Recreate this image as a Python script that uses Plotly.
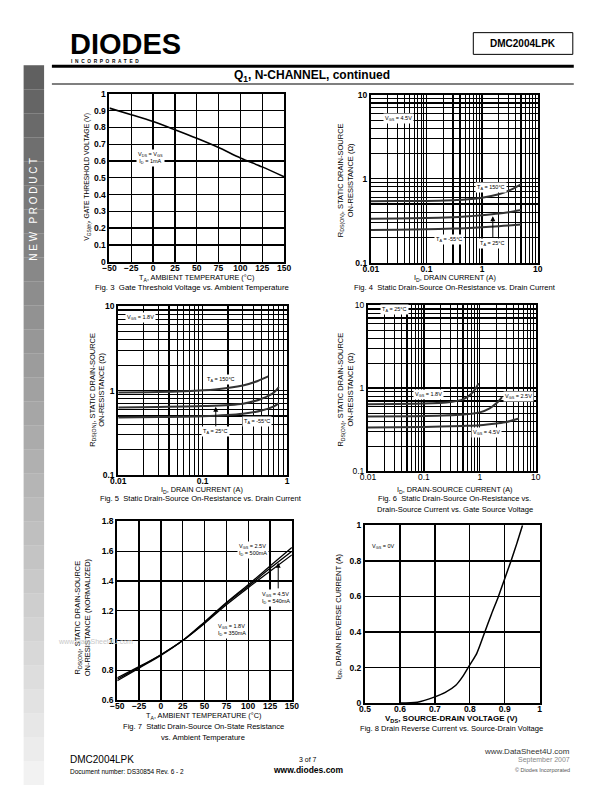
import plotly.graph_objects as go

W, H = 612, 792
FONT = "Liberation Sans, Arial, sans-serif"

# ---------------- data ----------------
fig3_temp = [-50, -25, 0, 25, 50, 75, 100, 125, 150]
fig3_vth = [0.915, 0.876, 0.835, 0.786, 0.735, 0.680, 0.618, 0.565, 0.506]

fig4_id = [0.01, 0.03, 0.1, 0.3, 0.5, 1, 2, 3, 5]
fig4_r150 = [0.54, 0.542, 0.545, 0.555, 0.565, 0.595, 0.655, 0.72, 0.86]
fig4_r25 = [0.335, 0.337, 0.34, 0.348, 0.355, 0.368, 0.385, 0.40, 0.425]
fig4_rm55 = [0.245, 0.247, 0.25, 0.255, 0.258, 0.264, 0.272, 0.278, 0.285]

fig5_id150 = [0.01, 0.03, 0.06, 0.14, 0.3, 0.45, 0.6]
fig5_r150 = [0.95, 0.96, 0.98, 1.03, 1.15, 1.3, 1.47]
fig5_id = [0.01, 0.03, 0.1, 0.3, 0.5, 0.7, 0.8]
fig5_r25 = [0.63, 0.64, 0.655, 0.70, 0.80, 0.95, 1.10]
fig5_rm55 = [0.48, 0.485, 0.495, 0.53, 0.58, 0.65, 0.71]

fig6_id18 = [0.01, 0.1, 0.3, 0.5, 0.7, 0.85, 0.95]
fig6_r18 = [0.64, 0.65, 0.68, 0.73, 0.85, 1.0, 1.15]
fig6_id25 = [0.01, 0.1, 0.5, 1, 1.5, 2, 2.5]
fig6_r25 = [0.455, 0.46, 0.48, 0.51, 0.57, 0.66, 0.78]
fig6_id45 = [0.01, 0.1, 0.5, 1, 2, 3, 5]
fig6_r45 = [0.335, 0.34, 0.35, 0.357, 0.375, 0.39, 0.43]

fig7_temp = [-50, -25, 0, 25, 50, 75, 100, 125, 150]
fig7_r25 = [0.73, 0.815, 0.90, 1.0, 1.125, 1.255, 1.375, 1.50, 1.625]
fig7_r45 = [0.74, 0.82, 0.905, 1.0, 1.12, 1.25, 1.365, 1.485, 1.60]
fig7_r18 = [0.75, 0.825, 0.905, 1.0, 1.115, 1.24, 1.355, 1.465, 1.575]

fig8_vsd = [0.6, 0.65, 0.7, 0.73, 0.76, 0.78, 0.8, 0.82, 0.843, 0.862, 0.882, 0.9, 0.918, 0.935, 0.951]
fig8_idr = [0.0, 0.005, 0.035, 0.06, 0.10, 0.15, 0.215, 0.28, 0.40, 0.50, 0.60, 0.70, 0.80, 0.90, 1.0]

log_ticks_x3 = [0.01, 0.1, 1, 10]
log_text_x3 = ["0.01", "0.1", "1", "10"]
log_ticks_x2 = [0.01, 0.1, 1]
log_text_x2 = ["0.01", "0.1", "1"]
log_ticks_y = [0.1, 1, 10]
log_text_y = ["0.1", "1", "10"]


def X(p):
    return p / W


def Y(p):
    return 1 - p / H


def minor_vals(e0, e1):
    return [m * 10 ** e for e in range(e0, e1) for m in range(2, 10)]


fig = go.Figure()


def axes(n, px0, px1, py0, py1, xcfg, ycfg, bold=True):
    xs = "" if n == 1 else str(n)
    tf = dict(family=FONT, size=8.5, color="black", weight="bold" if bold else "normal")
    common = dict(showline=True, mirror=True, linecolor="black", linewidth=2,
                  showgrid=True, gridcolor="black", gridwidth=1.3, zeroline=False,
                  ticks="", tickfont=tf, fixedrange=True)
    fig.layout["xaxis" + xs] = dict(domain=[X(px0), X(px1)], anchor="y" + xs,
                                    ticklabelstandoff=-3, **common, **xcfg)
    fig.layout["yaxis" + xs] = dict(domain=[Y(py1), Y(py0)], anchor="x" + xs, **common, **ycfg)


def line(n, x, y, w=1.6, color="black"):
    xs = "" if n == 1 else str(n)
    fig.add_trace(go.Scatter(x=x, y=y, xaxis="x" + xs, yaxis="y" + xs, mode="lines",
                             line=dict(color=color, width=w, shape="spline", smoothing=0.8),
                             showlegend=False, hoverinfo="skip"))


def logx(e0, e1, tv, tt):
    return dict(type="log", range=[e0, e1], tickvals=tv, ticktext=tt,
                minor=dict(tickvals=minor_vals(e0, e1), showgrid=True, gridcolor="black",
                           gridwidth=1.1, ticks=""))


# Fig 3
axes(1, 104, 283, 90, 260,
     dict(range=[-50, 150], tickvals=fig3_temp),
     dict(range=[0, 1], dtick=0.1, tick0=0))
line(1, fig3_temp, fig3_vth)

# Fig 4
axes(2, 372, 543, 91, 261, logx(-2, 1, log_ticks_x3, log_text_x3), logx(-1, 1, log_ticks_y, log_text_y))
line(2, fig4_id, fig4_r150, 2, "#333")
line(2, fig4_id, fig4_r25, 2, "#333")
line(2, fig4_id, fig4_rm55, 2, "#333")

# Fig 5
axes(3, 113, 286, 305, 476, logx(-2, 0, log_ticks_x2, log_text_x2), logx(-1, 1, log_ticks_y, log_text_y))
line(3, fig5_id150, fig5_r150, 2, "#333")
line(3, fig5_id, fig5_r25, 2, "#333")
line(3, fig5_id, fig5_rm55, 2, "#333")

# Fig 6
axes(4, 369, 541, 304, 472, logx(-2, 1, log_ticks_x3, log_text_x3), logx(-1, 1, log_ticks_y, log_text_y), bold=False)
line(4, fig6_id18, fig6_r18, 2, "#333")
line(4, fig6_id25, fig6_r25, 2, "#333")
line(4, fig6_id45, fig6_r45, 2, "#333")

# Fig 7
axes(5, 112, 291, 523, 704,
     dict(range=[-50, 150], tickvals=fig7_temp),
     dict(range=[0.6, 1.8], dtick=0.2, tick0=0.6))
line(5, fig7_temp, fig7_r25, 1.3)
line(5, fig7_temp, fig7_r45, 1.3)
line(5, fig7_temp, fig7_r18, 1.3)

# Fig 8
axes(6, 366, 545, 527, 707,
     dict(range=[0.5, 1], dtick=0.1, tick0=0.5),
     dict(range=[0, 1], dtick=0.2, tick0=0))
line(6, fig8_vsd, fig8_idr, 1.5)

ann = []


def T(x, y, text, size=7, angle=0, bold=False, color="black", xanchor="center", bg=None, align="center"):
    d = dict(x=X(x), y=Y(y), xref="paper", yref="paper", text=text, showarrow=False,
             textangle=angle, xanchor=xanchor, yanchor="middle", align=align,
             font=dict(family=FONT, size=size, color=color, weight="bold" if bold else "normal"))
    if bg:
        d.update(bgcolor=bg, borderpad=1)
    ann.append(d)


def ARROW(x, y, tail_dy):
    ann.append(dict(x=X(x), y=Y(y), xref="paper", yref="paper", text="", showarrow=True,
                    ax=0, ay=tail_dy, arrowhead=2, arrowsize=1, arrowwidth=1, arrowcolor="black"))


# header
T(62, 40, "DIODES", size=29, bold=True, xanchor="left")
T(63, 57, "I  N  C  O  R  P  O  R  A  T  E  D", size=4.8, bold=True, xanchor="left")
T(528, 39, "DMC2004LPK", size=10, bold=True)
T(312, 72, "Q<sub>1</sub>, N-CHANNEL, continued", size=12, bold=True)
T(26, 207, "N E W   P R O D U C T", size=10, angle=-90, color="white")

# Fig 3 texts
T(81, 174, "V<sub>GS(th)</sub>, GATE THRESHOLD VOLTAGE (V)", size=6.8, angle=-90)
T(193, 276, "T<sub>A</sub>, AMBIENT TEMPERATURE (°C)", size=7.3)
T(189, 286, "Fig. 3  Gate Threshold Voltage vs. Ambient Temperature", size=7.8)
T(146, 155, "V<sub>DS</sub> = V<sub>GS</sub><br>I<sub>D</sub> = 1mA", size=5.5, bg="white")

# Fig 4 texts
T(346, 178, "R<sub>DS(ON)</sub>, STATIC DRAIN-SOURCE<br>ON-RESISTANCE (Ω)", size=7.5, angle=-90)
T(458, 276, "I<sub>D</sub>, DRAIN CURRENT (A)", size=7.3)
T(458, 286, "Fig. 4  Static Drain-Source On-Resistance vs. Drain Current", size=7.6)
T(400, 115, "V<sub>GS</sub> = 4.5V", size=5.5, bg="white")
T(495, 185, "T<sub>A</sub> = 150°C", size=5.5, bg="white")
T(452, 237, "T<sub>A</sub> = -55°C", size=5.5, bg="white")
T(497, 242, "T<sub>A</sub> = 25°C", size=5.5, bg="white")
ARROW(497, 214, 23)

# Fig 5 texts
T(91, 390, "R<sub>DS(ON)</sub>, STATIC DRAIN-SOURCE<br>ON-RESISTANCE (Ω)", size=7.5, angle=-90)
T(199, 491, "I<sub>D</sub>, DRAIN CURRENT (A)", size=7.3)
T(198, 500, "Fig. 5  Static Drain-Source On-Resistance vs. Drain Current", size=7.6)
T(136, 316, "V<sub>GS</sub> = 1.8V", size=5.5, bg="white")
T(218, 379, "T<sub>A</sub> = 150°C", size=5.5, bg="white")
T(255, 422, "T<sub>A</sub> = -55°C", size=5.5, bg="white")
T(213, 432, "T<sub>A</sub> = 25°C", size=5.5, bg="white")
ARROW(213, 407, 21)

# Fig 6 texts
T(346, 390, "R<sub>DS(ON)</sub>, STATIC DRAIN-SOURCE<br>ON-RESISTANCE (Ω)", size=7.5, angle=-90)
T(458, 491, "I<sub>D</sub>, DRAIN-SOURCE CURRENT (A)", size=7.3)
T(458, 500, "Fig. 6  Static Drain-Source On-Resistance vs.", size=7.6)
T(458, 511, "Drain-Source Current vs. Gate Source Voltage", size=7.6)
T(396, 308, "T<sub>A</sub> = 25°C", size=5.5, bg="white")
T(431, 394, "V<sub>GS</sub> = 1.8V", size=5.5, bg="white")
T(523, 397, "V<sub>GS</sub> = 2.5V", size=5.5, bg="white")
T(491, 433, "V<sub>GS</sub> = 4.5V", size=5.5, bg="white")

# Fig 7 texts
T(76, 620, "R<sub>DS(ON)</sub>, STATIC DRAIN-SOURCE<br>ON-RESISTANCE (NORMALIZED)", size=7.5, angle=-90)
T(200, 720, "T<sub>A</sub>, AMBIENT TEMPERATURE (°C)", size=7.3)
T(200, 731, "Fig. 7  Static Drain-Source On-State Resistance", size=7.6)
T(200, 742, "vs. Ambient Temperature", size=7.6)
T(235, 552, "V<sub>GS</sub> = 2.5V<br>I<sub>D</sub> = 500mA", size=5.5, bg="white", xanchor="left", align="left")
T(258, 601, "V<sub>GS</sub> = 4.5V<br>I<sub>D</sub> = 540mA", size=5.5, bg="white", xanchor="left", align="left")
T(213, 633, "V<sub>GS</sub> = 1.8V<br>I<sub>D</sub> = 350mA", size=5.5, bg="white", xanchor="left", align="left")
ARROW(277, 565, 27)
T(90, 645, "www.DataSheet4U.com", size=7, color="#c8c8c8")

# Fig 8 texts
T(339, 620, "I<sub>DR</sub>, DRAIN REVERSE CURRENT (A)", size=7.5, angle=-90)
T(455, 723, "V<sub>DS</sub>, SOURCE-DRAIN VOLTAGE (V)", size=8, bold=True)
T(455, 733, "Fig. 8 Drain Reverse Current vs. Source-Drain Voltage", size=7.6)
T(385, 548, "V<sub>GS</sub> = 0V", size=5.5, bg="white")

# footer
T(62, 764, "DMC2004LPK", size=10, xanchor="left")
T(62, 776, "Document number: DS30854 Rev. 6 - 2", size=6.5, xanchor="left")
T(308, 764, "3 of 7", size=7)
T(308, 775, "www.diodes.com", size=8.5, bold=True)
T(578, 756, "www.DataSheet4U.com", size=8, xanchor="right", color="#333")
T(578, 765, "September 2007", size=7, xanchor="right", color="#888")
T(578, 775, "© Diodes Incorporated", size=5.5, xanchor="right", color="#555")

shapes = []
# sidebar gradient
n = 30
top, bot = 61, 790
for i in range(n):
    y0 = top + (bot - top) * i / n
    y1 = top + (bot - top) * (i + 1) / n
    g = int(0x60 + (0xf2 - 0x60) * i / (n - 1))
    shapes.append(dict(type="rect", xref="paper", yref="paper", x0=X(16), x1=X(37), y0=Y(y1), y1=Y(y0),
                       fillcolor=f"rgb({g},{g},{g})", line=dict(width=0), layer="below"))
# header rules and box
shapes.append(dict(type="line", xref="paper", yref="paper", x0=X(45), x1=X(580), y0=Y(62), y1=Y(62),
                   line=dict(color="black", width=3)))
shapes.append(dict(type="line", xref="paper", yref="paper", x0=X(45), x1=X(580), y0=Y(80), y1=Y(80),
                   line=dict(color="black", width=1.2)))
shapes.append(dict(type="rect", xref="paper", yref="paper", x0=X(477), x1=X(579), y0=Y(50), y1=Y(28),
                   line=dict(color="black", width=1)))

fig.update_layout(width=W, height=H, autosize=False, margin=dict(l=0, r=0, t=0, b=0),
                  paper_bgcolor="white", plot_bgcolor="white", annotations=ann, shapes=shapes,
                  showlegend=False)

fig.write_html("out.html", config={"displayModeBar": False, "staticPlot": True},
               post_script="document.body.style.margin='0';document.body.style.padding='0';")
